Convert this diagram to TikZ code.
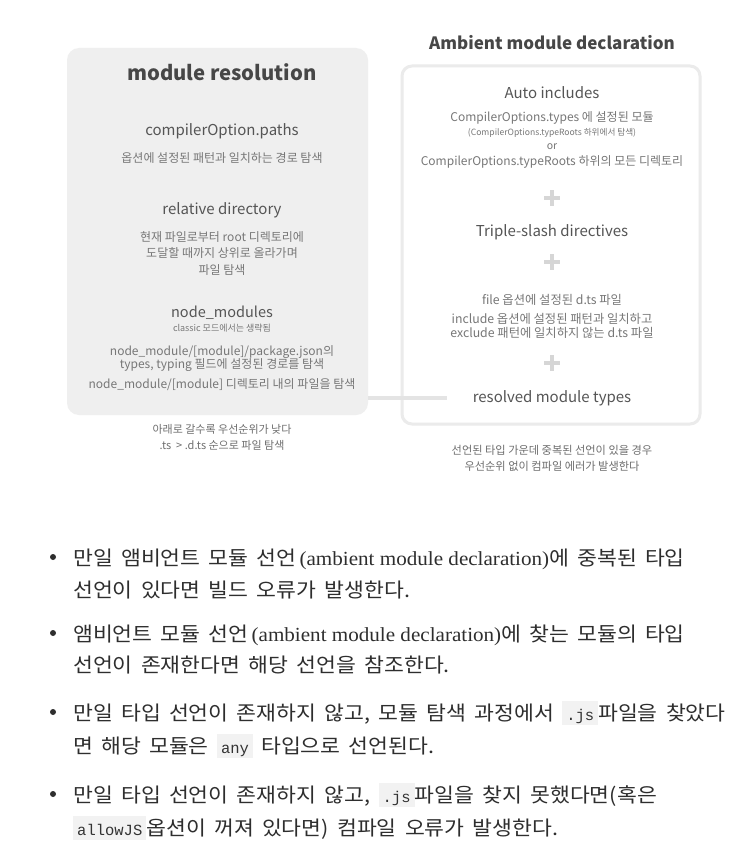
\documentclass[tikz,border=0pt]{standalone}
\usepackage{fontspec}
\setmainfont{Noto Sans CJK KR}
\newfontfamily\listkr[FakeStretch=1.08, WordSpace=1.7]{Noto Sans CJK KR}
\newfontfamily\serifen[FakeStretch=1.055]{Liberation Serif}
\newfontfamily\monoen{Liberation Mono}
\usetikzlibrary{positioning}

\definecolor{boxfill}{HTML}{EFEFEF}
\definecolor{boxline}{HTML}{EBEBEB}
\definecolor{linkgray}{HTML}{E4E4E4}
\definecolor{plusgray}{HTML}{D6D6D6}
\definecolor{titlegray}{HTML}{474747}
\definecolor{headgray}{HTML}{555555}
\definecolor{bodygray}{HTML}{777777}
\definecolor{notegray}{HTML}{6E6E6E}
\definecolor{listtext}{HTML}{2E2E2E}
\definecolor{codebg}{HTML}{F2F2F2}
\definecolor{codetext}{HTML}{333333}

\newcommand\en[1]{{\serifen #1}}
\newcommand\code[1]{{\setlength\fboxsep{0pt}\colorbox{codebg}{\rule[-4.5pt]{0pt}{24pt}\hspace{4pt}{\monoen\fontsize{15.5}{17}\selectfont\color{codetext}#1}\hspace{4pt}}}}

\begin{document}
\begin{tikzpicture}[x=1pt,y=-1pt,
  panel/.style={inner sep=0, rounded corners=12pt},
  modtitle/.style={font=\bfseries\fontsize{20.3}{24}\selectfont, text=titlegray, inner sep=0},
  sidetitle/.style={font=\bfseries\fontsize{17}{20}\selectfont, text=titlegray, inner sep=0},
  sectionhead/.style={font=\fontsize{15}{18}\selectfont, text=headgray, inner sep=0},
  detail/.style={font=\fontsize{12}{16.5}\selectfont, text=bodygray, align=center, inner sep=0},
  tinyline/.style={font=\fontsize{9}{11}\selectfont, text=bodygray, inner sep=0},
  footnote/.style={font=\fontsize{11}{15.5}\selectfont, text=notegray, align=center, inner sep=0},
  listline/.style={anchor=base west, font=\listkr\fontsize{20}{24}\selectfont, text=listtext, inner sep=0},
  plussign/.style={plusgray, line width=4pt},
  link/.style={linkgray, line width=4pt}]
  \fill[white] (0,0) rectangle (752,851);
  \useasboundingbox (0,0) rectangle (752,851);

  % module resolution panel
  \node[panel, fill=boxfill, minimum width=301pt, minimum height=367pt] (modres) at (217.5,231.5) {};
  \node[modtitle] (restitle) at (222,72) {module resolution};
  \node[sectionhead] (paths) at (222,131) {compilerOption.paths};
  \node[detail] (pathsdesc) at (222,158) {옵션에 설정된 패턴과 일치하는 경로 탐색};
  \node[sectionhead] (reldir) at (222,210) {relative directory};
  \node[detail] (reldirdesc) at (222,253.5) {현재 파일로부터 root 디렉토리에\\도달할 때까지 상위로 올라가며\\파일 탐색};
  \node[sectionhead, font=\fontsize{14.5}{17}\selectfont] (nodemods) at (222,313) {node\_modules};
  \node[tinyline] (classic) at (222,328) {classic 모드에서는 생략됨};
  \node[detail, font=\fontsize{12}{13.5}\selectfont] (pkgjson) at (222,358.5) {node\_module/[module]/package.json의\\types, typing 필드에 설정된 경로를 탐색};
  \node[detail] (moddir) at (222,385) {node\_module/[module] 디렉토리 내의 파일을 탐색};
  \node[footnote] (priority) at (222,437.5) {아래로 갈수록 우선순위가 낮다\\.ts ~> .d.ts 순으로 파일 탐색};

  % ambient module declaration panel
  \node[panel, draw=boxline, line width=3pt, rounded corners=10pt, minimum width=298pt, minimum height=358pt] (ambient) at (551,245) {};
  \node[sidetitle] (ambtitle) at (552,43) {Ambient module declaration};
  \node[sectionhead] (autoinc) at (552,93) {Auto includes};
  \node[detail] (types) at (552,118) {CompilerOptions.types 에 설정된 모듈};
  \node[tinyline, font=\fontsize{8.6}{10}\selectfont] (typeroots) at (552,133) {(CompilerOptions.typeRoots 하위에서 탐색)};
  \node[detail, font=\fontsize{10.5}{12}\selectfont] (orword) at (552,147) {or};
  \node[detail] (alldirs) at (552,162) {CompilerOptions.typeRoots 하위의 모든 디렉토리};
  \node[sectionhead] (triple) at (552,232) {Triple-slash directives};
  \node[detail, font=\fontsize{12.3}{14}\selectfont] (filesopt) at (552,300) {file 옵션에 설정된 d.ts 파일};
  \node[detail, font=\fontsize{12.3}{14}\selectfont] (include) at (552,326) {include 옵션에 설정된 패턴과 일치하고\\exclude 패턴에 일치하지 않는 d.ts 파일};
  \node[sectionhead] (resolved) at (552,398) {resolved module types};
  \node[footnote, font=\fontsize{11.2}{16}\selectfont] (duplicate) at (552,458) {선언된 타입 가운데 중복된 선언이 있을 경우\\우선순위 없이 컴파일 에러가 발생한다};
  \foreach \py in {198,262,363}
    \draw[plussign] (544,\py) -- (560,\py) (552,\py-8) -- (552,\py+8);

  % link between panels
  \coordinate (linkend) at (447,398);
  \draw[link] (modres.east |- resolved) -- (linkend);

  % list below the diagram
  \foreach \by in {557,633,712,794}
    \fill[listtext] (53,\by) circle (3pt);
  \node[listline] (item1a) at (73,565) {만일 앰비언트 모듈 선언\hspace{3pt}\en{(ambient module declaration)}에 중복된 타입};
  \node[listline] (item1b) at (73,597) {선언이 있다면 빌드 오류가 발생한다.};
  \node[listline] (item2a) at (73,641) {앰비언트 모듈 선언\hspace{3pt}\en{(ambient module declaration)}에 찾는 모듈의 타입};
  \node[listline] (item2b) at (73,672) {선언이 존재한다면 해당 선언을 참조한다.};
  \node[listline] (item3a) at (73,720) {만일 타입 선언이 존재하지 않고, 모듈 탐색 과정에서 \code{.js}파일을 찾았다};
  \node[listline] (item3b) at (73,753) {면 해당 모듈은 \code{any} 타입으로 선언된다.};
  \node[listline] (item4a) at (73,802) {만일 타입 선언이 존재하지 않고, \code{.js}파일을 찾지 못했다면(혹은};
  \node[listline] (item4b) at (73,835) {\code{allowJS}옵션이 꺼져 있다면) 컴파일 오류가 발생한다.};
\end{tikzpicture}
\end{document}
